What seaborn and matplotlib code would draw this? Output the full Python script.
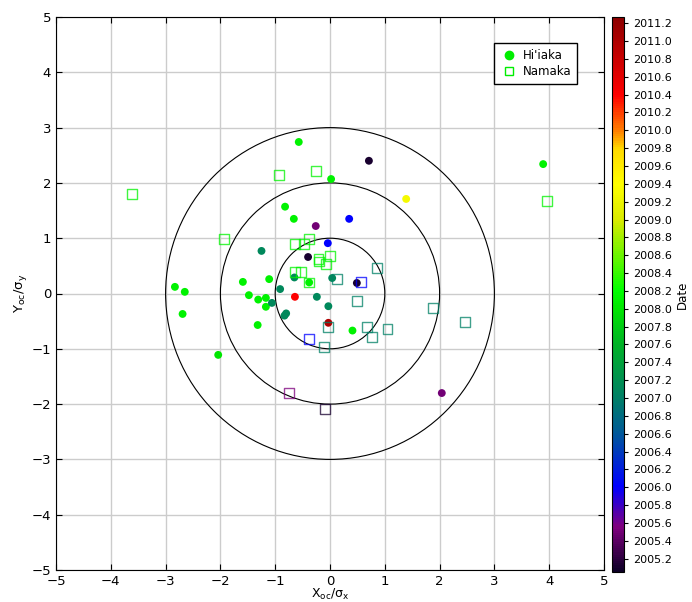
"""
Hi'iaka / Namaka offsets normalised by sigma, coloured by date
"""
import numpy as np
import pandas as pd
import matplotlib
matplotlib.use('Agg')
import matplotlib.pyplot as plt
import seaborn as sns
from matplotlib.colors import LinearSegmentedColormap, Normalize
from matplotlib.cm import ScalarMappable
from matplotlib.lines import Line2D
from matplotlib.patches import Circle

# Hi'iaka (filled circles)
hi_x = [-0.57, 0.02, 3.89, 0.71, 1.39, 0.35, -0.26, -0.82, -0.66, -0.04,
        -1.25, -0.40, -0.65, 0.04, 0.49, -0.38, -0.64, -0.24, -0.03, -0.03,
        0.41, -0.80, -0.83, 2.04, -2.04, -2.83, -2.65, -2.69, -1.59, -1.48,
        -1.31, -1.17, -1.11, -1.17, -1.06, -1.32, -0.91]
hi_y = [2.74, 2.07, 2.34, 2.40, 1.71, 1.35, 1.22, 1.57, 1.35, 0.91,
        0.77, 0.66, 0.29, 0.28, 0.19, 0.20, -0.06, -0.06, -0.23, -0.53,
        -0.67, -0.36, -0.40, -1.80, -1.11, 0.12, 0.03, -0.37, 0.21, -0.03,
        -0.11, -0.08, 0.26, -0.24, -0.17, -0.57, 0.08]
hi_date = [2008.1, 2008.1, 2008.1, 2005.1, 2009.3, 2006.0, 2005.5, 2008.1, 2008.1, 2006.0,
           2007.1, 2005.1, 2007.1, 2007.1, 2005.1, 2008.1, 2010.4, 2007.1, 2007.1, 2011.0,
           2008.1, 2007.1, 2007.1, 2005.5, 2008.0, 2008.1, 2008.1, 2008.1, 2008.1, 2008.1,
           2008.1, 2008.1, 2008.1, 2008.1, 2007.1, 2008.1, 2007.1]

# Namaka (open squares)
na_x = [-3.61, -0.93, -0.26, 3.96, -1.94, -0.64, -0.47, -0.39, 0.00, -0.21,
        -0.20, -0.07, -0.64, -0.53, -0.38, 0.13, 0.86, 0.49, -0.04, 0.67,
        0.77, 1.05, -0.11, 1.88, 2.46, 0.56, -0.39, -0.75, -0.09]
na_y = [1.80, 2.14, 2.21, 1.67, 0.99, 0.90, 0.89, 0.99, 0.68, 0.62,
        0.58, 0.53, 0.39, 0.39, 0.20, 0.26, 0.46, -0.13, -0.60, -0.60,
        -0.78, -0.64, -0.97, -0.26, -0.52, 0.21, -0.82, -1.80, -2.09]
na_date = [2008.1, 2008.1, 2008.1, 2008.1, 2008.1, 2008.1, 2008.1, 2008.1, 2008.1, 2008.1,
           2008.1, 2008.1, 2008.1, 2008.1, 2008.1, 2007.0, 2007.0, 2007.0, 2007.0, 2007.0,
           2007.0, 2007.0, 2007.0, 2007.0, 2007.0, 2006.0, 2006.0, 2005.55, 2005.1]

date_min, date_max = 2005.05, 2011.27
cbar_ticks = np.arange(2005.2, 2011.21, 0.2)
ring_radii = [1, 2, 3]

# colour ramp
stops = [(2005.05, (0.05, 0.0, 0.15)), (2005.55, (0.5, 0.0, 0.5)),
         (2006.0, (0.0, 0.0, 1.0)), (2006.6, (0.0, 0.35, 0.6)),
         (2007.0, (0.0, 0.5, 0.4)), (2007.6, (0.0, 0.7, 0.15)),
         (2008.0, (0.0, 0.9, 0.0)), (2008.2, (0.0, 1.0, 0.0)),
         (2009.0, (0.85, 0.92, 0.0)), (2009.4, (1.0, 1.0, 0.0)),
         (2009.8, (1.0, 0.85, 0.0)), (2010.0, (1.0, 0.5, 0.0)),
         (2010.4, (1.0, 0.0, 0.0)), (2011.27, (0.55, 0.0, 0.0))]
cmap = LinearSegmentedColormap.from_list(
    'date', [((v - date_min) / (date_max - date_min), c) for v, c in stops])
norm = Normalize(date_min, date_max)

hi = pd.DataFrame({'x': hi_x, 'y': hi_y, 'date': hi_date})
na = pd.DataFrame({'x': na_x, 'y': na_y, 'date': na_date})

plt.rcParams['font.family'] = 'DejaVu Sans'
plt.rcParams['mathtext.default'] = 'regular'

fig = plt.figure(figsize=(6.92, 6.02), dpi=100)
ax = fig.add_axes([56 / 692, 1 - 570 / 602, 548 / 692, 553 / 602])
cax = fig.add_axes([612 / 692, 1 - 572 / 602, 12 / 692, 555 / 602])

ax.grid(True, color='#cccccc', lw=1)
ax.set_axisbelow(True)

for r in ring_radii:
    ax.add_patch(Circle((0, 0), r, fill=False, ec='black', lw=0.8, zorder=1))

sns.scatterplot(data=hi, x='x', y='y', hue='date', palette=cmap, hue_norm=norm,
                marker='o', s=32, linewidth=0, legend=False, ax=ax, zorder=3)
sns.scatterplot(data=na, x='x', y='y', hue='date', palette=cmap, hue_norm=norm,
                marker='s', s=50, linewidth=1, legend=False, ax=ax, zorder=4)
sq = ax.collections[-1]
sq.set_edgecolors(sq.get_facecolors())
sq.set_facecolors('none')
sq.set_alpha(0.75)

ax.set_xlim(-5, 5)
ax.set_ylim(-5, 5)
ax.set_xticks(range(-5, 6))
ax.set_yticks(range(-5, 6))
ax.tick_params(direction='in', top=True, right=True, labelsize=9.5, length=4)
ax.set_xlabel(r'X$_{oc}$/$\sigma_x$', fontsize=9, labelpad=-1)
ax.set_ylabel(r'Y$_{oc}$/$\sigma_y$', fontsize=9.5, labelpad=2)

handles = [Line2D([], [], marker='o', ls='', color='#00ee00', markersize=6),
           Line2D([], [], marker='s', ls='', mfc='none', mec='#00ee00', markersize=6)]
leg = ax.legend(handles, ["Hi'iaka", 'Namaka'], loc='upper right',
                bbox_to_anchor=(0.962, 0.964), fontsize=8.5, fancybox=False,
                edgecolor='black', framealpha=1, handletextpad=0.4, borderpad=0.5,
                handlelength=1.5, labelspacing=0.3)

cb = fig.colorbar(ScalarMappable(norm=norm, cmap=cmap), cax=cax)
cb.set_ticks(cbar_ticks)
cb.set_ticklabels([f'{t:.1f}' for t in cbar_ticks])
cb.ax.tick_params(labelsize=8, length=3)
cb.set_label('Date', fontsize=8.5, labelpad=3)
cb.outline.set_linewidth(0.8)

fig.savefig('out.png', dpi=100)
